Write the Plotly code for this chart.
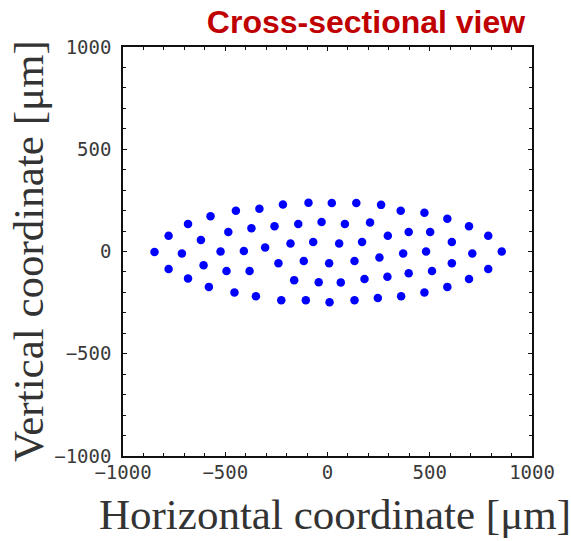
import plotly.graph_objects as go

# Fiber centre positions [um]
x_um = [-846, -777, -777, -682, -682, -712, -619, -606, -572, -580,
        -523, -485, -494, -448, -455, -409, -372, -381, -333, -350,
        -305, -259, -240, -218, -226, -181, -143, -163, -116, -93,
        -106, -70, -29, -43, 21, 141, 262, 358, 474, 586,
        692, 786, 852, 786, 692, 586, 474, 360, 246, 132,
        10, 85, 208, 295, 397, 502, 608, 57, 169, 254,
        370, 482, 708, 8, 132, 608, 65, 181, 293, 397, 511]
y_um = [-2, 77, -86, 135, -132, -10, 56, -67, 172, -173,
        0, 95, -95, 199, -200, 2, 114, -95, 209, -219,
        20, 124, -57, 230, -238, 39, 134, -140, -47, 238,
        -238, 47, 144, -150, 237, 237, 228, 199, 189, 160,
        124, 77, 0, -86, -134, -173, -200, -219, -227, -238,
        -248, 134, 142, 77, 95, 95, 47, 39, 47, -29,
        -10, 0, -10, -58, -47, -57, -151, -134, -124, -106, -95]

tick_vals = [-1000, -500, 0, 500, 1000]
tick_text = ["\u22121000", "\u2212500", "0", "500", "1000"]

fig = go.Figure(go.Scatter(
    x=x_um, y=y_um, mode="markers",
    marker=dict(color="#0000FF", size=8.5, line=dict(width=0)),
    showlegend=False, hoverinfo="skip"))

tick_font = dict(family="DejaVu Sans Mono", size=19, color="#3a3a3a")
axis_common = dict(
    range=[-1000, 1000], tickmode="array", tickvals=tick_vals, ticktext=tick_text,
    showgrid=False, zeroline=False, showline=True, linecolor="#111111", linewidth=1.6,
    mirror="ticks", ticks="inside", ticklen=4, tickwidth=1.2, tickcolor="#111111",
    minor=dict(dtick=100, tick0=0, ticks="inside", ticklen=3, tickwidth=1.2, tickcolor="#111111", showgrid=False),
    tickfont=tick_font, automargin=False,
)

title_font = dict(family="Liberation Serif", size=43, color="#333333")

fig.update_layout(
    width=571, height=541,
    margin=dict(l=123, r=39, t=47, b=85),
    paper_bgcolor="white", plot_bgcolor="white",
    title=dict(text="<b>Cross-sectional view</b>", x=366/571, xanchor="center", xref="container",
               y=1 - 22/541, yanchor="middle", yref="container",
               font=dict(family="Liberation Sans", size=32, color="#C00000")),
    xaxis=dict(**axis_common, ticklabelstandoff=-2),
    yaxis=dict(**axis_common, ticklabelstandoff=6),
    annotations=[
        dict(text="Horizontal coordinate [\u03bcm]", xref="paper", yref="paper",
             x=(335 - 123) / 409, y=-(514 - 456) / 409, xanchor="center", yanchor="middle",
             showarrow=False, font=title_font),
        dict(text="Vertical coordinate [\u03bcm]", xref="paper", yref="paper",
             x=-(123 - 28) / 409, y=(456 - 251) / 409, xanchor="center", yanchor="middle",
             textangle=-90, showarrow=False, font=title_font),
    ],
)

fig.write_html("out.html")
